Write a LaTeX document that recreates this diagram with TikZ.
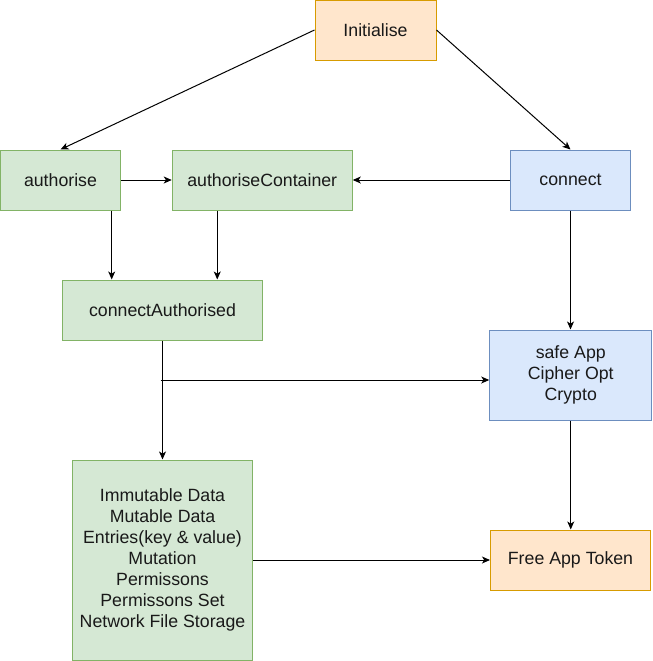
\documentclass[tikz,border=0pt]{standalone}
\usepackage{fontspec}
\setmainfont{Liberation Sans}
\usetikzlibrary{arrows.meta,calc}
\definecolor{gfill}{HTML}{D5E8D4}
\definecolor{gline}{HTML}{82B366}
\definecolor{bfill}{HTML}{DAE8FC}
\definecolor{bline}{HTML}{6C8EBF}
\definecolor{ofill}{HTML}{FFE6CC}
\definecolor{oline}{HTML}{D79B00}
\tikzset{
  box/.style={draw, line width=0.75pt, rectangle, inner sep=0pt, align=center,
    font=\fontsize{13.3pt}{15.75pt}\selectfont, text=black!90},
  gbox/.style={box, fill=gfill, draw=gline},
  bbox/.style={box, fill=bfill, draw=bline},
  obox/.style={box, fill=ofill, draw=oline},
  arr/.style={draw, line width=0.75pt, -{Stealth[length=6pt,width=5.2pt,inset=1.6pt]}},
}
\begin{document}
\begin{tikzpicture}[x=0.75pt,y=-0.75pt]
\useasboundingbox (0,0) rectangle (653,661);
\node[obox, minimum width=90.75pt, minimum height=45pt] (init) at (375.5,30) {Initialise};
\node[gbox, minimum width=90pt, minimum height=45pt] (auth) at (60.5,180) {authorise};
\node[gbox, minimum width=135pt, minimum height=45pt] (authC) at (262.25,180) {authoriseContainer};
\node[bbox, minimum width=90pt, minimum height=45pt] (conn) at (570.5,180) {connect};
\node[gbox, minimum width=150pt, minimum height=45pt] (connA) at (162.5,310) {connectAuthorised};
\node[bbox, minimum width=121.5pt, minimum height=67.5pt] (safe) at (570.75,375) {safe App\\Cipher Opt\\Crypto};
\node[gbox, minimum width=135pt, minimum height=150pt] (imm) at (162.5,560) {Immutable Data\\Mutable Data\\Entries(key \& value)\\Mutation\\Permissons\\Permissons Set\\Network File Storage};
\node[obox, minimum width=120pt, minimum height=45pt] (free) at (570.5,560) {Free App Token};

\draw[arr] (init.west) -- (auth.north);
\draw[arr] (init.east) -- (conn.north);
\draw[arr] (auth.east) -- (authC.west);
\draw[arr] (conn.west) -- (authC.east);
\draw[arr] ([xshift=38.4pt]auth.south) -- ([xshift=38.4pt]auth.south |- connA.north);
\draw[arr] ([xshift=-33.75pt]authC.south) -- ([xshift=-33.75pt]authC.south |- connA.north);
\draw[arr] (conn.south) -- (conn.south |- safe.north);
\draw[arr] (connA.south) -- (imm.north);
\coordinate (br) at ([xshift=-1.5pt,yshift=-3.75pt]connA.south |- safe.west);
\draw[arr] (br) -- (br -| safe.west);
\draw[arr] (imm.east) -- (free.west);
\draw[arr] (safe.south) -- (safe.south |- free.north);
\end{tikzpicture}
\end{document}
